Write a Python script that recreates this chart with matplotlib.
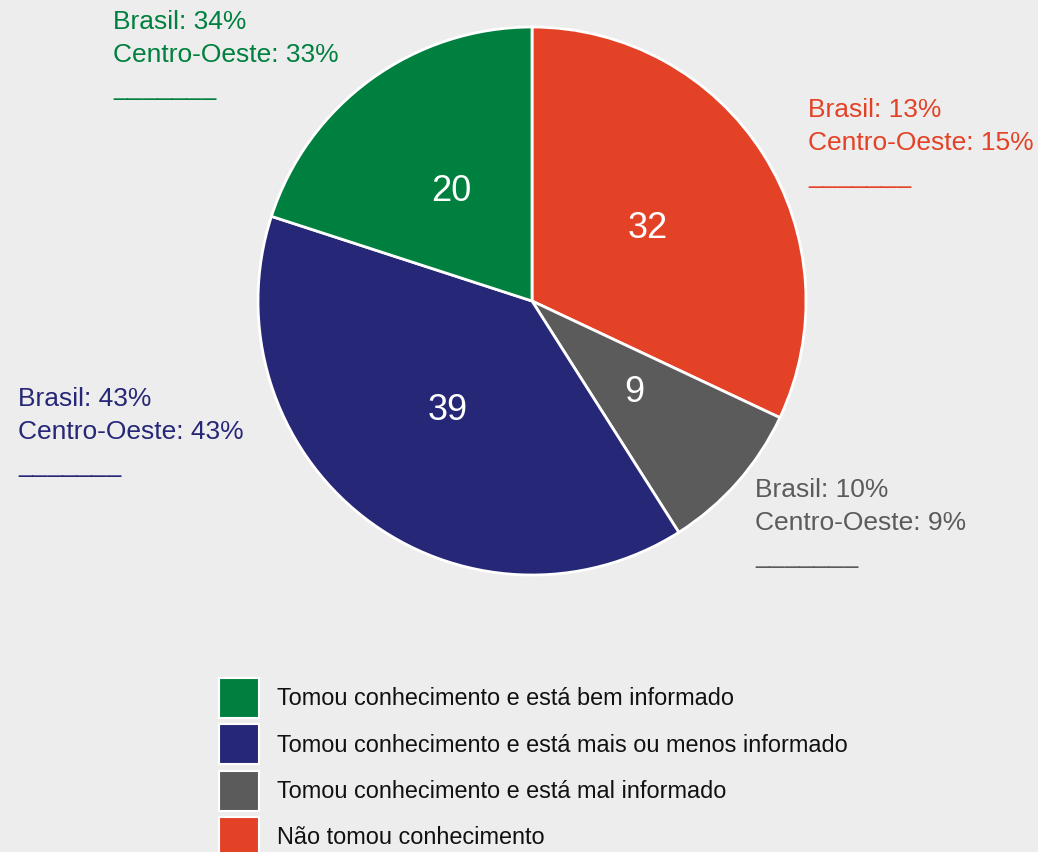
import matplotlib
matplotlib.use("Agg")
import matplotlib.pyplot as plt
from matplotlib.patches import Rectangle

plt.rcParams['font.family'] = ['Liberation Sans', 'DejaVu Sans']

# Data (pie order: clockwise from 12 o'clock)
categories = ["Não tomou conhecimento",
              "Tomou conhecimento e está mal informado",
              "Tomou conhecimento e está mais ou menos informado",
              "Tomou conhecimento e está bem informado"]
values = [32, 9, 39, 20]
colors = ["#e34226", "#5b5b5b", "#262777", "#00803e"]
brasil = [13, 10, 43, 34]
centro_oeste = [15, 9, 43, 33]

# Legend order
legend_order = [3, 2, 1, 0]

W, H = 1038, 853
fig = plt.figure(figsize=(W / 100, H / 100), dpi=100)
fig.patch.set_facecolor("#ededed")
ax = fig.add_axes([0, 0, 1, 1])
ax.set_facecolor("#ededed")

def Y(y):
    return H - y

cx, cy, r = 532, Y(302), 274
wedges, texts, autotexts = ax.pie(
    values, colors=colors, startangle=90, counterclock=False,
    center=(cx, cy), radius=r,
    autopct=lambda p: f"{p:.0f}", pctdistance=0.5,
    wedgeprops=dict(edgecolor="white", linewidth=2),
    textprops=dict(color="white", fontsize=26))
ax.set_xlim(0, W)
ax.set_ylim(0, H)
ax.set_aspect("equal")
ax.axis("off")

# Side annotations (x, top y) in pixel layout
ann_pos = [(808, 98), (755, 478), (18, 387), (113, 10)]
for i, (x, yt) in enumerate(ann_pos):
    ax.text(x, Y(yt), f"Brasil: {brasil[i]}%\nCentro-Oeste: {centro_oeste[i]}%\n_______",
            color=colors[i], fontsize=19, ha="left", va="top", linespacing=1.48)

# Legend
lx, ly0, sz, step = 219, 679, 40, 46.3
for k, i in enumerate(legend_order):
    top = ly0 + k * step
    ax.add_patch(Rectangle((lx, Y(top + sz)), sz, sz, facecolor=colors[i],
                           edgecolor="white", linewidth=1.5, clip_on=False))
    ax.text(277, Y(top + sz / 2), categories[i], fontsize=16.9, color="#111111",
            ha="left", va="center")

fig.savefig("out.png", dpi=100, facecolor=fig.get_facecolor())
